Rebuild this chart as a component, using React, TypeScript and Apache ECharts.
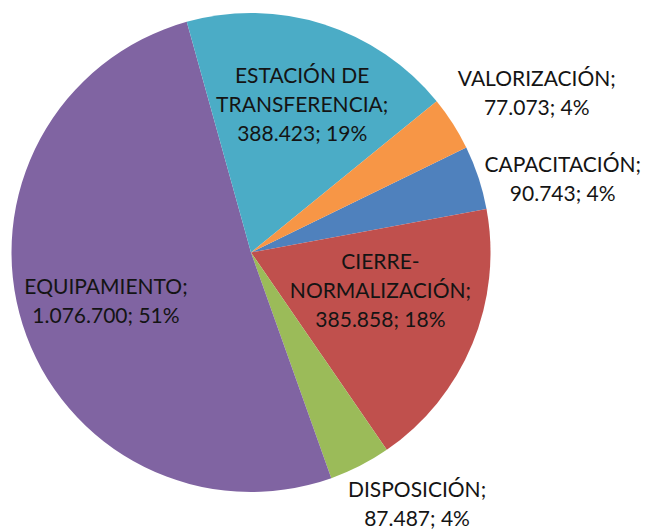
import React, { useEffect, useRef } from 'react';
import * as echarts from 'echarts';

const categories = [
  'CAPACITACIÓN',
  'CIERRE-\nNORMALIZACIÓN',
  'DISPOSICIÓN',
  'EQUIPAMIENTO',
  'ESTACIÓN DE\nTRANSFERENCIA',
  'VALORIZACIÓN',
];
const values = [90743, 385858, 87487, 1076700, 388423, 77073];
const colors = ['#4F81BD', '#C0504D', '#9BBB59', '#8064A2', '#4BACC6', '#F79646'];
const labelPlacement = ['outside', 'inside', 'outside', 'inside', 'inside', 'outside'];
const labelNudge = [
  [1, 0],
  [16, -10],
  [-17, 37],
  [-28, 10],
  [14, -32],
  [0, -32],
];

const fmt = (v: number) => String(v).replace(/\B(?=(\d{3})+(?!\d))/g, '.');

export default function App() {
  const ref = useRef<HTMLDivElement>(null);
  useEffect(() => {
    document.body.style.margin = '0';
    const chart = echarts.init(ref.current!, undefined, { renderer: 'svg' });
    chart.setOption({
      animation: false,
      backgroundColor: '#ffffff',
      series: [
        {
          type: 'pie',
          center: [251, 252.5],
          radius: 239.5,
          startAngle: 26,
          clockwise: true,
          avoidLabelOverlap: false,
          percentPrecision: 0,
          silent: true,
          itemStyle: { borderWidth: 0 },
          labelLine: { show: false, length: 0, length2: 0 },
          label: {
            fontFamily: 'Lato',
            fontSize: 21,
            lineHeight: 29,
            color: '#141414',
            align: 'center',
            formatter: (p: any) => `${p.name};\n${fmt(p.value)}; ${p.percent}%`,
          },
          labelLayout: (p: any) => {
            const n = labelNudge[p.dataIndex];
            const r = p.labelRect;
            return {
              x: r.x + r.width / 2 + n[0],
              y: r.y + r.height / 2 + n[1],
              align: 'center',
              verticalAlign: 'middle',
            };
          },
          emphasis: { disabled: true },
          data: categories.map((name, i) => ({
            name,
            value: values[i],
            itemStyle: { color: colors[i] },
            label: { position: labelPlacement[i] },
          })),
        },
      ],
    });
    return () => chart.dispose();
  }, []);
  return <div ref={ref} style={{ width: 649, height: 532 }} />;
}
